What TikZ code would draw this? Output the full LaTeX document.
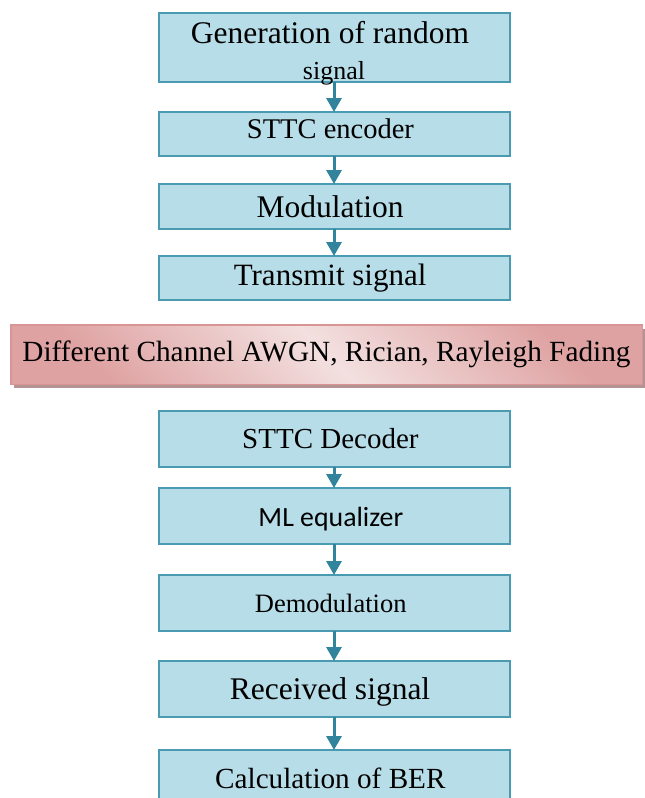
\documentclass[tikz,border=0pt]{standalone}
\usepackage{fontspec}
\setmainfont{Liberation Serif}
\newfontfamily\calfont{Carlito}
\usetikzlibrary{arrows.meta, positioning, shadows}

\definecolor{boxfill}{HTML}{B7DDE8}
\definecolor{boxline}{HTML}{4A9BB2}
\definecolor{arrowcol}{HTML}{31849B}
\definecolor{chandark}{HTML}{DFA2A2}
\definecolor{chanlight}{HTML}{F3E0E0}
\definecolor{chanline}{HTML}{D99594}
\definecolor{chanshadow}{HTML}{B39393}

\begin{document}
\begin{tikzpicture}[
    x=1pt, y=-1pt,
    node distance=28pt,
    stage/.style={
        rectangle,
        draw=boxline,
        line width=2pt,
        fill=boxfill,
        align=center,
        minimum width=351pt,
        minimum height=56pt,
        inner sep=2pt,
        outer sep=0pt
    },
    channel/.style={
        rectangle,
        draw=chanline,
        line width=1.5pt,
        top color=chandark,
        bottom color=chandark,
        middle color=chanlight,
        shading angle=-45,
        minimum width=631.5pt,
        minimum height=59.5pt,
        inner sep=2pt,
        outer sep=0pt,
        drop shadow={shadow xshift=3.5pt, shadow yshift=-4pt, fill=chanshadow, opacity=1}
    },
    arrow/.style={-{Triangle[length=14pt, width=15pt]}, line width=3pt, draw=arrowcol}
]
\useasboundingbox (0,0) rectangle (645,798);

\node[stage, minimum height=69pt, text height=22pt, text depth=31pt,
    font=\fontsize{31.5}{36}\selectfont] (gen) at (334,47.5) {
Generation of random
};
\node[anchor=base, inner sep=0pt, font=\fontsize{26}{30}\selectfont] (gen_sig) at ([yshift=3pt]gen.south) {
signal
};

\node[stage, minimum height=44pt, text depth=10pt, font=\fontsize{28.5}{32}\selectfont,
    below=30pt of gen] (enc) {
STTC encoder
};
\node[stage, minimum height=45pt, font=\fontsize{31.5}{36}\selectfont,
    below=of enc] (mod) {
Modulation
};
\node[stage, minimum height=44pt, font=\fontsize{31}{36}\selectfont,
    below=27pt of mod] (tx) {
Transmit signal
};

\node[channel, font=\fontsize{29.3}{34}\selectfont,
    below=24.75pt of tx, xshift=-7.5pt] (chan) {
Different Channel AWGN, Rician, Rayleigh Fading
};

\node[stage, font=\fontsize{29}{34}\selectfont,
    below=26.75pt of chan, xshift=7.5pt] (dec) {
STTC Decoder
};
\node[stage, text height=21pt, text depth=0pt, font=\calfont\fontsize{27.8}{32}\selectfont,
    below=21pt of dec] (equ) {
ML equalizer
};
\node[stage, font=\fontsize{26.5}{30}\selectfont,
    below=31pt of equ] (demod) {
Demodulation
};
\node[stage, text depth=0pt, font=\fontsize{31.5}{36}\selectfont,
    below=30pt of demod] (rx) {
Received signal
};
\node[stage, font=\fontsize{29.2}{34}\selectfont,
    below=33pt of rx] (ber) {
Calculation of BER
};

\draw[arrow] (gen) -- (enc);
\draw[arrow] (enc) -- (mod);
\draw[arrow] (mod) -- (tx);
\draw[arrow] (dec) -- (equ);
\draw[arrow] (equ) -- (demod);
\draw[arrow] (demod) -- (rx);
\draw[arrow] (rx) -- (ber);

\end{tikzpicture}
\end{document}
